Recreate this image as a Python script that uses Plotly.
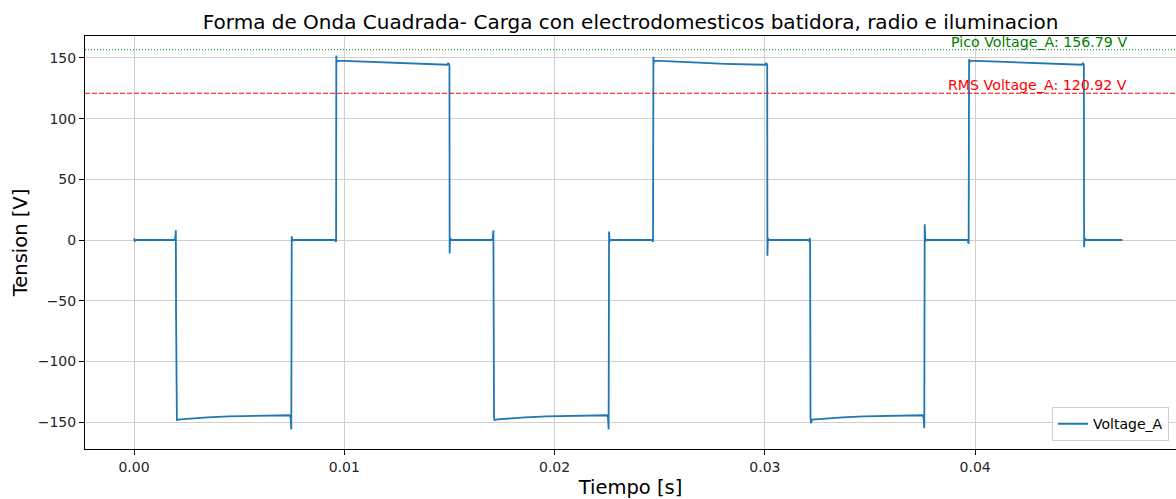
import plotly.graph_objects as go

# Muestras de la forma de onda (tiempo en s, tension en V)
tiempo = [
    0.00000, 0.00004, 0.00010, 0.00190, 0.00196, 0.00199, 0.00200, 0.00202, 0.00204,
    0.00220, 0.00280, 0.00350, 0.00450, 0.00550, 0.00650, 0.00740, 0.00745, 0.00748,
    0.00749, 0.00750, 0.00753, 0.00760,
    0.00955, 0.00961, 0.00962, 0.00964, 0.00968, 0.01000, 0.01100, 0.01200, 0.01300,
    0.01400, 0.01490, 0.01495, 0.01500, 0.01501, 0.01503, 0.01510,
    0.01700, 0.01706, 0.01709, 0.01712, 0.01714, 0.01730, 0.01790, 0.01860, 0.01960,
    0.02060, 0.02160, 0.02249, 0.02254, 0.02257, 0.02259, 0.02262, 0.02270,
    0.02463, 0.02468, 0.02470, 0.02472, 0.02476, 0.02510, 0.02610, 0.02710, 0.02810,
    0.02910, 0.03002, 0.03007, 0.03011, 0.03012, 0.03014, 0.03020,
    0.03206, 0.03212, 0.03215, 0.03217, 0.03219, 0.03225, 0.03240, 0.03300, 0.03370,
    0.03470, 0.03570, 0.03670, 0.03750, 0.03755, 0.03758, 0.03760, 0.03763, 0.03770,
    0.03964, 0.03969, 0.03971, 0.03973, 0.03977, 0.04010, 0.04110, 0.04210, 0.04310,
    0.04410, 0.04508, 0.04513, 0.04517, 0.04518, 0.04520, 0.04527, 0.04700,
]
voltaje_a = [
    1.5, -0.8, 0.0, 0.0, 1.0, 8.0, -60.0, -146.0, -148.3,
    -147.8, -147.0, -146.2, -145.4, -144.9, -144.6, -144.4, -146.5, -156.0,
    -80.0, 3.0, -0.8, 0.0,
    0.0, -1.5, 152.0, 146.5, 147.8, 147.6, 146.8, 146.0, 145.2,
    144.7, 144.4, 146.0, 144.0, -11.0, 1.5, 0.0,
    0.0, 1.0, 8.0, -146.0, -148.3, -147.8, -147.0, -146.2, -145.4,
    -144.9, -144.6, -144.4, -146.5, -156.0, 7.0, -0.8, 0.0,
    0.0, -1.5, 151.0, 146.5, 147.8, 147.6, 146.8, 146.0, 145.2,
    144.7, 144.4, 146.0, 144.0, -13.0, 1.5, 0.0,
    0.0, -1.0, 1.5, -146.0, -151.0, -148.0, -147.8, -147.0, -146.2,
    -145.4, -144.9, -144.6, -144.4, -146.5, -155.0, 13.0, -0.8, 0.0,
    0.0, -3.0, 149.0, 146.5, 147.8, 147.6, 146.8, 146.0, 145.2,
    144.7, 144.4, 146.0, 144.0, -6.0, 1.5, 0.0, 0.0,
]

pico_v = 156.79
rms_v = 120.92

titulo = "Forma de Onda Cuadrada- Carga con electrodomesticos batidora, radio e iluminacion"
x_ticks = [0.00, 0.01, 0.02, 0.03, 0.04]
y_ticks = [-150, -100, -50, 0, 50, 100, 150]

FONT = "DejaVu Sans"
GRID = "#cfcfcf"

fig = go.Figure()
fig.add_trace(go.Scatter(
    x=tiempo, y=voltaje_a, mode="lines", name="Voltage_A",
    line=dict(color="#1f77b4", width=1.8),
))

# Lineas de referencia horizontales
fig.add_shape(type="line", xref="paper", x0=0, x1=1, yref="y", y0=pico_v, y1=pico_v,
              line=dict(color="green", width=1, dash="1px,2px"))
fig.add_shape(type="line", xref="paper", x0=0, x1=1, yref="y", y0=rms_v, y1=rms_v,
              line=dict(color="red", width=1, dash="5px,2px"))

fig.add_annotation(x=max(tiempo), y=pico_v, text=f"Pico Voltage_A: {pico_v:.2f} V",
                   xanchor="right", yanchor="bottom", showarrow=False, yshift=-2, xshift=7,
                   font=dict(family=FONT, size=14.2, color="green"))
fig.add_annotation(x=max(tiempo), y=rms_v, text=f"RMS Voltage_A: {rms_v:.2f} V",
                   xanchor="right", yanchor="bottom", showarrow=False, yshift=-2, xshift=7,
                   font=dict(family=FONT, size=14.2, color="red"))

fig.update_layout(
    width=1176, height=499,
    margin=dict(l=85, r=0, t=36, b=50),
    paper_bgcolor="white", plot_bgcolor="white",
    font=dict(family=FONT, size=14, color="#262626"),
    title=dict(text=titulo, x=0.5362, xanchor="center", y=1 - 22 / 499, yanchor="middle",
               yref="container", font=dict(family=FONT, size=20, color="black")),
    showlegend=True,
    legend=dict(x=0.9936, y=0.019, xanchor="right", yanchor="bottom",
                bgcolor="rgba(255,255,255,0.8)", bordercolor="#d0d0d0", borderwidth=1,
                font=dict(family=FONT, size=14, color="black"),
                itemwidth=30),
)

fig.update_xaxes(
    range=[-0.00233, 0.04955], tickvals=x_ticks, ticktext=[f"{v:.2f}" for v in x_ticks],
    showgrid=True, gridcolor=GRID, gridwidth=1, zeroline=False,
    showline=True, linecolor="black", linewidth=1, mirror=True,
    ticks="outside", ticklen=5, tickcolor="black",
    tickfont=dict(family=FONT, size=14, color="#262626"),
    title=dict(text="Tiempo [s]", standoff=8, font=dict(family=FONT, size=19.5, color="black")),
)
fig.update_yaxes(
    range=[-172.2, 168.1], tickvals=y_ticks, ticktext=[str(v).replace("-", "\u2212") for v in y_ticks],
    showgrid=True, gridcolor=GRID, gridwidth=1, zeroline=False,
    showline=True, linecolor="black", linewidth=1, mirror=False,
    ticks="outside", ticklen=5, tickcolor="black",
    tickfont=dict(family=FONT, size=14, color="#262626"),
    title=dict(text="Tension [V]", standoff=4, font=dict(family=FONT, size=19.5, color="black")),
)

fig.write_html("out.html")
